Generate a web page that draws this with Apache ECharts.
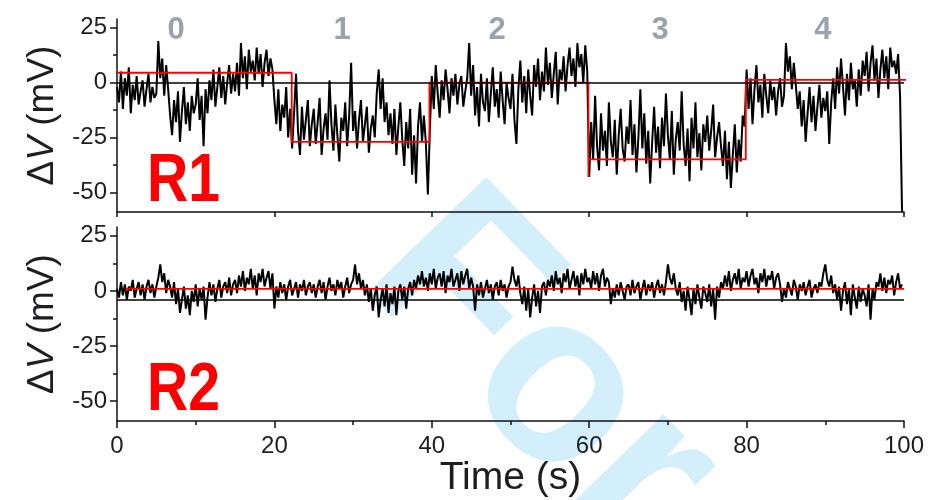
<!DOCTYPE html>
<html>
<head>
<meta charset="utf-8">
<script src="https://cdn.jsdelivr.net/npm/echarts@6/dist/echarts.min.js"></script>
<style>html,body{margin:0;padding:0;background:#fff;}#c{width:940px;height:500px;}</style>
</head>
<body>
<div id="c"></div>
<script>
// ---- data ----
var SAMPLE_STEP = 0.25; // s between samples
var R1_VALUES = [
-2,-9,5,-12,2,-6,7,-14,-1,-8,3,-10,-4,1,-11,-3,4,-9,-2,-7,
-5,19,2,11,-6,8,-3,-15,-24,-8,-18,-4,-27,-13,-2,-19,-9,-22,-6,-14,
-10,2,-17,-6,-29,-3,-14,1,-8,6,-11,-2,7,-7,3,-10,0,8,-5,4,
-4,9,-6,18,2,12,-3,15,5,10,1,16,4,13,-2,9,15,3,11,6,
-8,-19,-3,-22,-10,-16,-2,-25,-12,-30,-14,4,-22,-33,-11,-26,-17,-8,-29,-19,
-12,-28,-18,-7,-33,-21,-14,-26,1,-19,-31,-10,-24,-36,-16,-22,-9,-29,-15,9,
-22,-13,-30,-17,-8,-27,-19,-11,-32,-21,-15,-25,-5,6,-12,2,-18,-9,-24,-14,
-28,-12,-33,-20,-9,-26,-38,-18,-30,-12,-42,-24,-46,-20,-9,-27,-15,-28,-51,-22,
3,-12,8,-5,-16,1,-8,6,-3,-14,2,-6,4,-10,-1,3,-11,-4,2,18,
-6,8,-15,-2,-20,4,-9,-13,2,-18,-5,7,-11,-3,-16,5,-8,-19,0,-7,
-12,4,-17,-28,-3,10,-9,3,-14,6,-6,-15,8,-2,11,-8,5,-4,16,-1,
9,-7,4,14,-10,6,1,12,-4,8,16,3,11,-2,18,7,13,0,17,5,
-43,-18,-35,-6,-29,-40,-14,-31,-22,-38,-9,-27,-34,-17,-42,-24,-12,-30,-36,-20,
-28,-8,-33,-19,-41,-25,-3,-30,-14,-37,-22,-46,-27,-11,-32,-20,-39,-16,-29,-5,
-24,-35,-13,-42,-26,-18,-31,-4,-28,-38,-21,-45,-16,-30,-9,-34,-23,-40,-19,-27,
-15,-31,-22,-10,-34,-25,-18,-29,-38,-22,-44,-27,-48,-33,-19,-41,-26,-36,-15,-20,
6,-12,2,-19,-3,8,-9,-1,-16,4,-6,-14,1,-8,-2,-15,-4,2,-11,-6,
18,5,12,-3,9,-1,-12,-4,-20,-8,-27,-14,-2,-18,-6,-22,-11,-1,-16,-7,
-13,-4,-28,-9,2,-12,7,-5,11,-2,-15,4,-8,9,-3,1,-11,6,-6,10,
3,14,-4,9,17,1,11,-7,6,15,2,12,-3,16,7,10,4,13,-6,-59
];
var R2_VALUES = [
1,-3,4,-2,3,-4,2,0,5,-3,1,4,-2,3,-4,2,5,-1,3,-3,
2,6,12,4,8,-1,5,2,-3,4,-6,1,-10,-4,2,-8,-2,-11,0,-5,
3,-7,1,-4,2,-13,-3,4,-2,3,-5,1,5,-3,2,4,-1,6,-2,3,
5,-1,7,2,9,0,6,3,10,1,7,-2,8,4,10,2,6,9,1,8,
-8,2,-3,4,-1,3,-4,2,5,-2,1,4,-3,3,0,5,-2,2,4,-1,
3,-3,2,5,-1,4,-4,2,6,0,3,-2,5,1,4,-3,2,6,-1,3,
5,12,3,8,1,5,-2,3,-5,1,-9,-2,2,-12,-4,1,-7,3,-10,-1,
-6,2,-11,0,3,-4,2,-8,1,4,-2,5,1,7,3,9,2,6,0,8,
3,10,1,6,8,2,9,-1,7,4,10,2,5,8,0,9,3,7,10,1,
6,2,-9,3,-2,4,-3,1,5,-1,3,-4,2,4,-2,5,0,3,-3,2,
4,11,5,2,7,-1,-6,2,-9,1,-12,-3,3,-7,0,-10,2,4,-2,5,
2,7,0,9,3,6,-1,8,4,10,1,5,9,2,7,-2,8,3,10,4,
6,1,9,3,8,0,7,10,2,6,4,-6,1,-3,3,-2,4,0,-4,2,
3,-2,5,-1,2,4,-4,1,5,-2,3,0,4,-3,2,5,-1,3,-2,4,
12,6,3,8,1,-2,4,-5,0,-9,2,-4,-11,1,-6,3,-3,-8,2,-1,
-5,3,-7,1,-13,2,-3,4,1,7,2,9,0,5,8,3,10,1,6,4,
9,2,7,10,3,6,-1,8,4,10,2,7,5,9,1,6,8,3,-5,1,
-3,4,1,-2,5,2,-4,3,0,4,-2,2,5,-3,1,3,-1,4,2,8,
12,5,2,7,-1,3,-4,2,-9,0,4,-6,1,-11,3,-3,-8,2,-5,1,
-2,-7,3,-13,1,-4,4,2,8,0,6,-1,5,3,7,-2,4,8,1,3
];
var R1_STEP_T = [0, 22.2, 22.2, 39.7, 39.7, 59.9, 59.9, 59.9, 79.9, 79.9, 101];
var R1_STEP_V = [4.5, 4.5, -27, -27, 0, 0, -43, -35, -35, 1.2, 1.2];
var R1_ZERO = 0;
var R2_FIT_T = [1.1, 100];
var R2_FIT_V = [0.9, 0.9];
var R2_BASE = -3.8;
var STATE_NAMES = ['0', '1', '2', '3', '4'];
var STATE_T = [7.5, 28.6, 48.3, 69, 89.7];
var STATE_V = [24, 24, 24, 24, 24];
var Y_TICKS = [-50, -25, 0, 25];
var Y_MINOR = [-37.5, -12.5, 12.5];
var PANEL_NAMES = ['R1', 'R2'];

// ---- build ----
function pairs(ts, vs) { return ts.map(function (t, i) { return [t, vs[i]]; }); }
function sampled(vs) { return vs.map(function (v, i) { return [i * SAMPLE_STEP, v]; }); }

var FONT = '"Liberation Sans", Arial, sans-serif';
var TXT = '#1d1d24';

function yMain(gi) {
  return {
    type: 'value', gridIndex: gi, min: -59, max: 29,
    splitLine: { show: false },
    axisLine: { show: true, lineStyle: { color: '#111', width: 1.5 } },
    axisTick: { show: true, inside: false, length: 7, customValues: Y_TICKS, lineStyle: { color: '#111', width: 1.5 } },
    axisLabel: { show: true, customValues: Y_TICKS, margin: 10, fontSize: 24, fontFamily: FONT, color: TXT },
    name: '{a|Δ}{b|V}{a| (mV)}',
    nameLocation: 'middle', nameGap: 54, nameRotate: 90,
    nameTextStyle: {
      color: TXT, fontFamily: FONT, fontSize: 37,
      rich: { a: { fontSize: 37, fontFamily: FONT, color: TXT }, b: { fontSize: 37, fontFamily: FONT, fontStyle: 'italic', color: TXT } }
    }
  };
}
function yMinor(gi) {
  return {
    type: 'value', gridIndex: gi, min: -59, max: 29, position: 'left',
    splitLine: { show: false },
    axisLine: { show: false },
    axisTick: { show: true, length: 4, customValues: Y_MINOR, lineStyle: { color: '#111', width: 1.5 } },
    axisLabel: { show: false }
  };
}

var option = {
  animation: false,
  backgroundColor: '#fff',
  grid: [
    { left: 117, top: 19, width: 787, height: 193 },
    { left: 117, top: 227, width: 787, height: 194 }
  ],
  xAxis: [
    {
      type: 'value', gridIndex: 0, min: 0, max: 100, interval: 20,
      splitLine: { show: false },
      axisLine: { show: true, onZero: false, lineStyle: { color: '#111', width: 1.5 } },
      axisTick: { show: true, length: 5, lineStyle: { color: '#111', width: 1.5 } },
      axisLabel: { show: false }
    },
    {
      type: 'value', gridIndex: 1, min: 0, max: 100, interval: 20,
      splitLine: { show: false },
      axisLine: { show: true, onZero: false, lineStyle: { color: '#111', width: 1.5 } },
      axisTick: { show: true, length: 7, lineStyle: { color: '#111', width: 1.5 } },
      minorTick: { show: true, splitNumber: 2, length: 4, lineStyle: { color: '#111', width: 1.5 } },
      axisLabel: { show: true, margin: 13, fontSize: 24, fontFamily: FONT, color: TXT },
      name: 'Time (s)', nameLocation: 'middle', nameGap: 37,
      nameTextStyle: { fontSize: 39, fontFamily: FONT, color: TXT }
    }
  ],
  yAxis: [yMain(0), yMinor(0), yMain(1), yMinor(1)],
  graphic: [
    {
      type: 'text', x: 318, y: 318, rotation: -0.8, z: -1, silent: true,
      style: { text: 'For', font: 'bold 240px ' + FONT, fill: 'rgba(0,160,235,0.17)', verticalAlign: 'bottom' }
    },
    {
      type: 'text', x: 147, y: 148, scaleX: 0.84, z: 50,
      style: { text: PANEL_NAMES[0], font: 'bold 68px ' + FONT, fill: '#ff0000', verticalAlign: 'top' }
    },
    {
      type: 'text', x: 147, y: 357, scaleX: 0.84, z: 50,
      style: { text: PANEL_NAMES[1], font: 'bold 68px ' + FONT, fill: '#ff0000', verticalAlign: 'top' }
    }
  ],
  series: [
    {
      type: 'line', xAxisIndex: 0, yAxisIndex: 0, data: sampled(R1_VALUES),
      showSymbol: false, symbol: 'none', lineStyle: { color: '#000', width: 2 }, z: 3,
      markLine: {
        silent: true, symbol: 'none', label: { show: false },
        lineStyle: { color: '#000', width: 1.5, type: 'solid' },
        data: [{ yAxis: R1_ZERO }]
      }
    },
    {
      type: 'line', xAxisIndex: 0, yAxisIndex: 0, data: pairs(R1_STEP_T, R1_STEP_V),
      showSymbol: false, symbol: 'none', clip: false, lineStyle: { color: '#ff0000', width: 1.8 }, z: 4
    },
    {
      type: 'scatter', xAxisIndex: 0, yAxisIndex: 0, symbolSize: 0, silent: true,
      data: STATE_T.map(function (t, i) { return { value: [t, STATE_V[i]], name: STATE_NAMES[i] }; }),
      label: { show: true, position: 'inside', formatter: '{b}', fontSize: 31, fontWeight: 'bold', fontFamily: FONT, color: '#7f8b98' }, z: 5
    },
    {
      type: 'line', xAxisIndex: 1, yAxisIndex: 2, data: sampled(R2_VALUES),
      showSymbol: false, symbol: 'none', lineStyle: { color: '#000', width: 2 }, z: 3,
      markLine: {
        silent: true, symbol: 'none', label: { show: false },
        lineStyle: { color: '#000', width: 1.5, type: 'solid' },
        data: [{ yAxis: R2_BASE }]
      }
    },
    {
      type: 'line', xAxisIndex: 1, yAxisIndex: 2, data: pairs(R2_FIT_T, R2_FIT_V),
      showSymbol: false, symbol: 'none', lineStyle: { color: '#ff0000', width: 1.8 }, z: 4
    }
  ]
};
var chart = echarts.init(document.getElementById('c'), null, { renderer: 'canvas' });
chart.setOption(option);
</script>
</body>
</html>
